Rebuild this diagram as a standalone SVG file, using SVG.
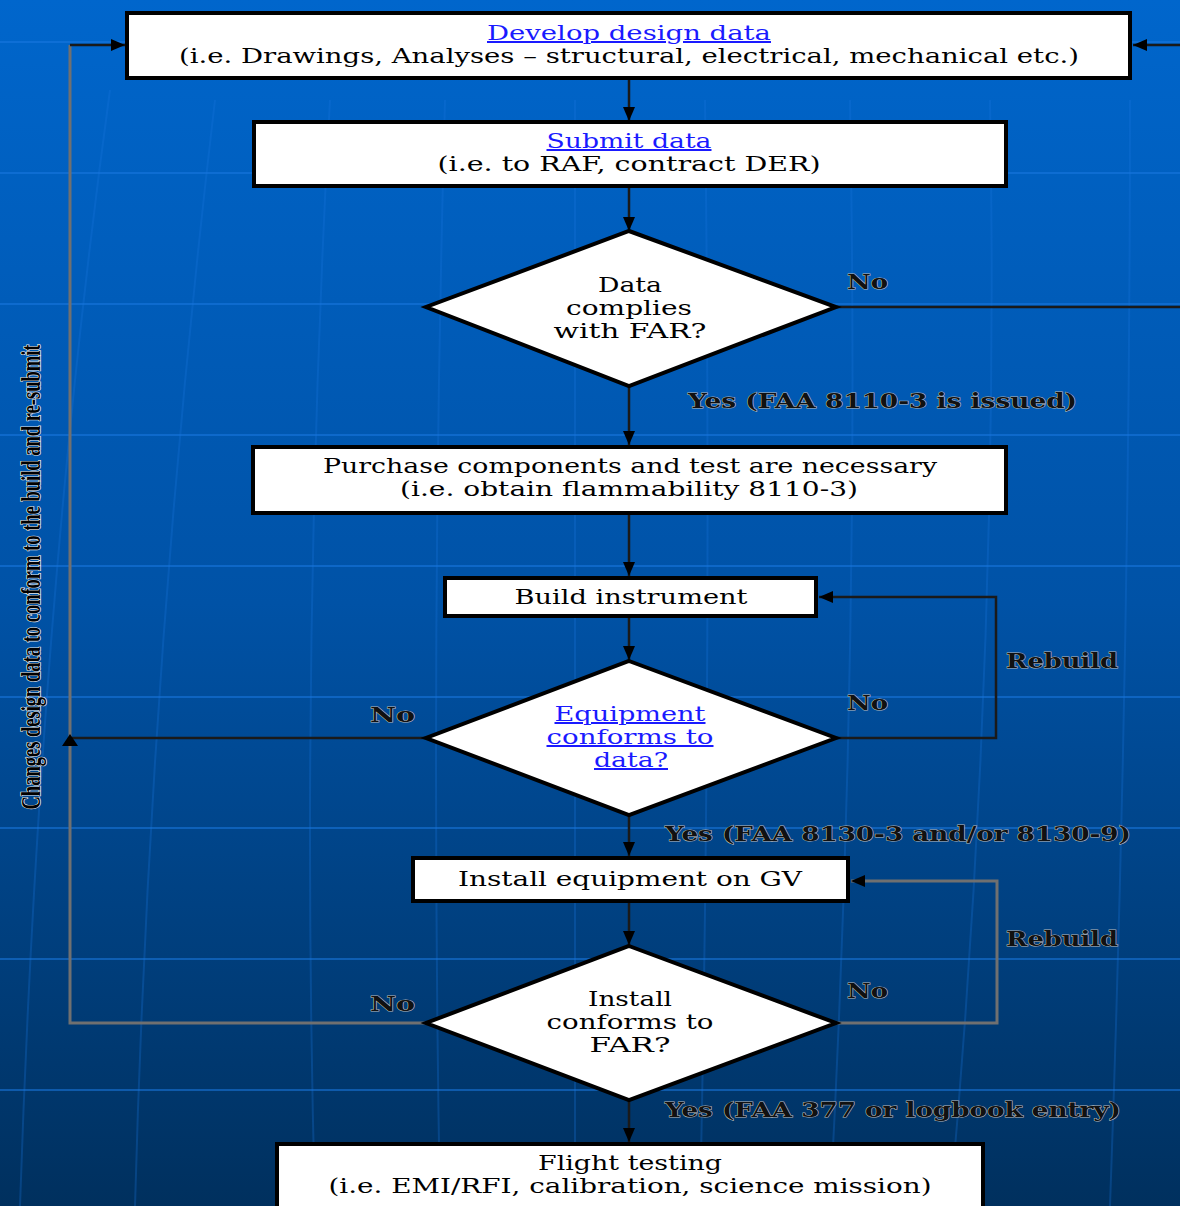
<svg xmlns="http://www.w3.org/2000/svg" width="1180" height="1206" viewBox="0 0 1180 1206">
<defs>
<linearGradient id="bg" x1="0" y1="0" x2="0" y2="1">
<stop offset="0" stop-color="#0066cc"/>
<stop offset="0.5" stop-color="#0052a6"/>
<stop offset="1" stop-color="#00305e"/>
</linearGradient>
<marker id="ah" markerUnits="userSpaceOnUse" markerWidth="16" markerHeight="14" refX="14" refY="6" orient="auto">
<path d="M0,0 L14,6 L0,12 Z" fill="#000"/>
</marker>
<style>
.grid{stroke:#1a78e0;stroke-width:2;opacity:.55;fill:none}
.mer{stroke:#1a78e0;stroke-width:2;opacity:.28;fill:none}
.box{fill:#fff;stroke:#000;stroke-width:4}
.dia{fill:#fff;stroke:#000;stroke-width:4;stroke-linejoin:miter}
.t{font-family:"DejaVu Serif","Liberation Serif",serif;font-size:20px;fill:#000;text-anchor:middle}
.lk{fill:#1a1aff;text-decoration:underline}
.lab{font-family:"DejaVu Serif","Liberation Serif",serif;font-size:20px;font-weight:bold;fill:#111;stroke:#b8b8b8;stroke-width:1;paint-order:stroke}
.vt{font-family:"Liberation Serif",serif;font-size:27px;font-weight:bold;fill:#000;stroke:#e8e8e8;stroke-width:1.6;paint-order:stroke;text-anchor:middle}
.c{fill:none;stroke:#1a1a1a;stroke-width:2.5}
.cg{fill:none;stroke:#707070;stroke-width:3}
</style>
</defs>
<rect x="0" y="0" width="1180" height="1206" fill="url(#bg)"/>
<g id="background-grid">
<path class="grid" d="M0,42H1180M0,173H1180M0,304H1180M0,435H1180M0,566H1180M0,697H1180M0,828H1180M0,959H1180M0,1090H1180"/>
<path class="mer" d="M110,90 Q40,600 20,1206"/>
<path class="mer" d="M215,100 Q150,650 135,1206"/>
<path class="mer" d="M330,100 Q300,650 315,1206"/>
<path class="mer" d="M445,100 Q430,650 440,1206"/>
<path class="mer" d="M575,100 Q575,650 575,1206"/>
<path class="mer" d="M705,100 Q712,650 700,1206"/>
<path class="mer" d="M850,100 Q860,650 830,1206"/>
<path class="mer" d="M990,100 Q1000,650 950,1206"/>
<path class="mer" d="M1130,100 Q1130,650 1110,1206"/>
</g>
<g id="connectors">
<path class="c" d="M629,80V121" marker-end="url(#ah)"/>
<path class="c" d="M629,188V231" marker-end="url(#ah)"/>
<path class="c" d="M629,387V445" marker-end="url(#ah)"/>
<path class="c" d="M629,515V576" marker-end="url(#ah)"/>
<path class="c" d="M629,618V660" marker-end="url(#ah)"/>
<path class="c" d="M629,815V856" marker-end="url(#ah)"/>
<path class="c" d="M629,903V945" marker-end="url(#ah)"/>
<path class="c" d="M629,1100V1142" marker-end="url(#ah)"/>
<path class="c" d="M837,307H1182"/>
<path class="c" d="M1182,45H1133" marker-end="url(#ah)"/>
<path class="c" d="M837,738H996V597H819" marker-end="url(#ah)"/>
<path class="cg" d="M837,1023H997V881H851" marker-end="url(#ah)"/>
<path class="c" d="M425,738H70"/>
<path class="cg" d="M425,1023H70V45"/>
<path class="c" d="M70,45H125" marker-end="url(#ah)"/>
<path d="M62,746 L70,734 L78,746 Z" fill="#000"/>
</g>
<g id="develop">
<rect class="box" x="127" y="13" width="1003" height="65"/>
<text class="t lk" x="629" y="40" textLength="284" lengthAdjust="spacingAndGlyphs">Develop design data</text>
<text class="t" x="629" y="63" textLength="900" lengthAdjust="spacingAndGlyphs">(i.e. Drawings, Analyses – structural, electrical, mechanical etc.)</text>
</g>
<g id="submit">
<rect class="box" x="254" y="122" width="752" height="64"/>
<text class="t lk" x="629" y="148" textLength="165" lengthAdjust="spacingAndGlyphs">Submit data</text>
<text class="t" x="629" y="171" textLength="383" lengthAdjust="spacingAndGlyphs">(i.e. to RAF, contract DER)</text>
</g>
<g id="complies">
<polygon class="dia" points="629,231 836,307 629,386 426,307"/>
<text class="t" x="630" y="292" textLength="64" lengthAdjust="spacingAndGlyphs">Data</text>
<text class="t" x="629" y="315" textLength="126" lengthAdjust="spacingAndGlyphs">complies</text>
<text class="t" x="630" y="338" textLength="153" lengthAdjust="spacingAndGlyphs">with FAR?</text>
</g>
<g id="purchase">
<rect class="box" x="253" y="447" width="753" height="66"/>
<text class="t" x="630" y="473" textLength="614" lengthAdjust="spacingAndGlyphs">Purchase components and test are necessary</text>
<text class="t" x="629" y="496" textLength="458" lengthAdjust="spacingAndGlyphs">(i.e. obtain flammability 8110-3)</text>
</g>
<g id="build">
<rect class="box" x="445" y="578" width="371" height="38"/>
<text class="t" x="631" y="604" textLength="233" lengthAdjust="spacingAndGlyphs">Build instrument</text>
</g>
<g id="equip-conforms">
<polygon class="dia" points="629,661 836,738 629,815 426,738"/>
<text class="t lk" x="630" y="721" textLength="151" lengthAdjust="spacingAndGlyphs">Equipment</text>
<text class="t lk" x="630" y="744" textLength="167" lengthAdjust="spacingAndGlyphs">conforms to</text>
<text class="t lk" x="631" y="767" textLength="74" lengthAdjust="spacingAndGlyphs">data?</text>
</g>
<g id="install">
<rect class="box" x="413" y="858" width="435" height="43"/>
<text class="t" x="630" y="886" textLength="344" lengthAdjust="spacingAndGlyphs">Install equipment on GV</text>
</g>
<g id="install-conforms">
<polygon class="dia" points="629,946 836,1023 629,1100 426,1023"/>
<text class="t" x="630" y="1006" textLength="84" lengthAdjust="spacingAndGlyphs">Install</text>
<text class="t" x="630" y="1029" textLength="167" lengthAdjust="spacingAndGlyphs">conforms to</text>
<text class="t" x="630" y="1052" textLength="81" lengthAdjust="spacingAndGlyphs">FAR?</text>
</g>
<g id="flight">
<rect class="box" x="277" y="1144" width="706" height="72"/>
<text class="t" x="630" y="1170" textLength="184" lengthAdjust="spacingAndGlyphs">Flight testing</text>
<text class="t" x="630" y="1193" textLength="603" lengthAdjust="spacingAndGlyphs">(i.e. EMI/RFI, calibration, science mission)</text>
</g>
<g id="labels">
<text class="lab" x="847" y="289" textLength="41" lengthAdjust="spacingAndGlyphs">No</text>
<text class="lab" x="688" y="408" textLength="389" lengthAdjust="spacingAndGlyphs">Yes (FAA 8110-3 is issued)</text>
<text class="lab" x="847" y="710" textLength="41" lengthAdjust="spacingAndGlyphs">No</text>
<text class="lab" x="370" y="722" textLength="45" lengthAdjust="spacingAndGlyphs">No</text>
<text class="lab" x="1006" y="668" textLength="112" lengthAdjust="spacingAndGlyphs">Rebuild</text>
<text class="lab" x="665" y="841" textLength="466" lengthAdjust="spacingAndGlyphs">Yes (FAA 8130-3 and/or 8130-9)</text>
<text class="lab" x="1006" y="946" textLength="112" lengthAdjust="spacingAndGlyphs">Rebuild</text>
<text class="lab" x="847" y="998" textLength="41" lengthAdjust="spacingAndGlyphs">No</text>
<text class="lab" x="370" y="1011" textLength="45" lengthAdjust="spacingAndGlyphs">No</text>
<text class="lab" x="665" y="1117" textLength="456" lengthAdjust="spacingAndGlyphs">Yes (FAA 377 or logbook entry)</text>
<text class="vt" transform="translate(40,577) rotate(-90)" textLength="465" lengthAdjust="spacingAndGlyphs">Changes design data to conform to the build and re-submit</text>
</g>
</svg>
